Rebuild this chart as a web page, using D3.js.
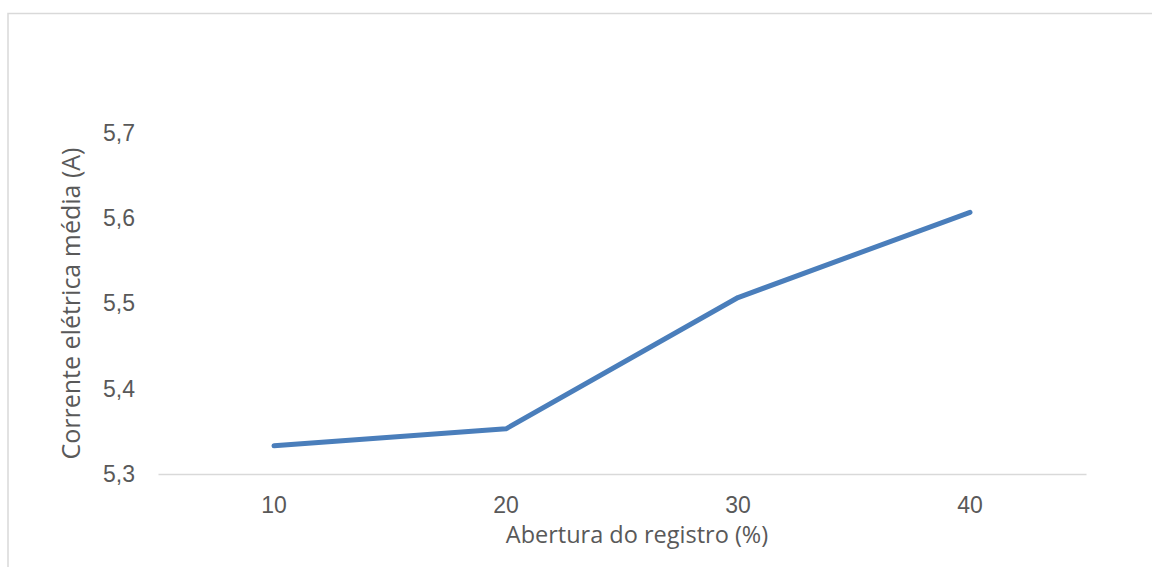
<!DOCTYPE html>
<html>
<head>
<meta charset="utf-8">
<script src="https://cdn.jsdelivr.net/npm/d3@7"></script>
<style>
  html, body { margin: 0; padding: 0; background: #fff; }
  svg { display: block; font-family: "Open Sans", "Noto Sans", sans-serif; }
</style>
</head>
<body>
<svg id="chart" width="1152" height="567"></svg>
<script>
// Abertura do registro (%) vs. corrente elétrica média (A)
const categories = ["10", "20", "30", "40"];
const correnteMedia = [5.333, 5.353, 5.507, 5.607];
const yTicks = [5.3, 5.4, 5.5, 5.6, 5.7];
const xTitle = "Abertura do registro (%)";
const yTitle = "Corrente elétrica média (A)";

const svg = d3.select("#chart");
const plot = { left: 158, right: 1086, top: 133, bottom: 474 };
const textColor = "#595959";
const tickFont = 23;

// Chart frame
svg.append("path")
  .attr("d", `M8,567 V13.5 H1152`)
  .attr("fill", "none")
  .attr("stroke", "#d9d9d9")
  .attr("stroke-width", 1.5);

const x = d3.scaleBand().domain(categories).range([plot.left, plot.right]);
const y = d3.scaleLinear().domain([5.3, 5.7]).range([plot.bottom, plot.top]);

// Category axis
const xAxis = svg.append("g")
  .attr("transform", `translate(0,${plot.bottom})`)
  .call(d3.axisBottom(x).tickSize(0).tickPadding(0));
xAxis.select(".domain").attr("stroke", "#d9d9d9").attr("stroke-width", 1.5);
xAxis.selectAll("text")
  .attr("y", 38.5).attr("dy", null)
  .attr("fill", textColor)
  .style("font-size", tickFont + "px")
  .style("font-family", "inherit");

// Value axis (labels only)
const yAxis = svg.append("g")
  .attr("transform", `translate(${plot.left},0)`)
  .call(d3.axisLeft(y).tickValues(yTicks).tickSize(0).tickPadding(23)
    .tickFormat(d => d3.format(".1f")(d).replace(".", ",")));
yAxis.select(".domain").remove();
yAxis.selectAll("text")
  .attr("fill", textColor)
  .style("font-size", tickFont + "px")
  .style("font-family", "inherit");

// Series line
const line = d3.line()
  .x((d, i) => x(categories[i]) + x.bandwidth() / 2)
  .y(d => y(d));

svg.append("path")
  .datum(correnteMedia)
  .attr("d", line)
  .attr("fill", "none")
  .attr("stroke", "#4a7ebb")
  .attr("stroke-width", 5)
  .attr("stroke-linecap", "round")
  .attr("stroke-linejoin", "round");

// Axis titles
svg.append("text")
  .attr("x", 637).attr("y", 543)
  .attr("text-anchor", "middle")
  .attr("fill", textColor)
  .style("font-size", "23.5px")
  .text(xTitle);

svg.append("text")
  .attr("transform", `translate(80,${(plot.top + plot.bottom) / 2}) rotate(-90)`)
  .attr("text-anchor", "middle")
  .attr("fill", textColor)
  .style("font-size", "25px")
  .text(yTitle);
</script>
</body>
</html>
